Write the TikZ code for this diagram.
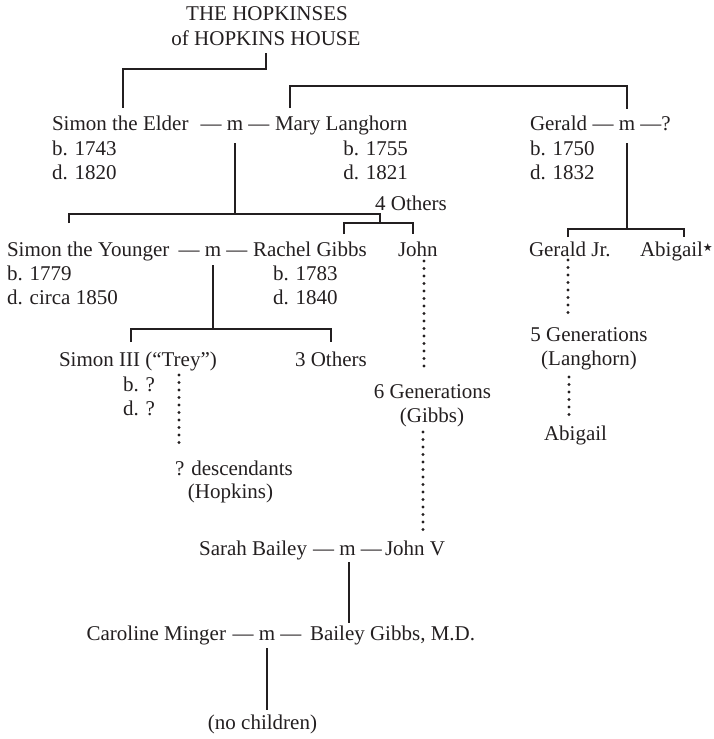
\documentclass[tikz,border=0pt]{standalone}
\usepackage{fontspec}
\setmainfont{Liberation Serif}
\newfontfamily\symfont{DejaVu Sans}
\definecolor{ink}{RGB}{35,31,32}
\begin{document}
\begin{tikzpicture}[x=1pt,y=-1pt,
  txt/.style={inner sep=0pt, outer sep=0pt, text=ink, font=\fontsize{21}{24}\selectfont},
  ln/.style={draw=ink, line width=1.3pt},
  dots/.style={draw=ink, line width=3.1pt, line cap=round, dash pattern=on 0pt off 7.5pt}]
\useasboundingbox (0,0) rectangle (714,739);
% title
\node[txt,anchor=base] (t1) at (267,20) {THE HOPKINSES};
\node[txt,anchor=base] (t2) at (266,45) {of HOPKINS HOUSE};
% generation 1
\node[txt,anchor=base west] (se) at (52,130) {Simon the Elder};
\node[txt,anchor=base] (m1) at (235,130) {— m —};
\node[txt,anchor=base west] (ml) at (275,130) {Mary Langhorn};
\node[txt,anchor=base west] (seb) at (52,155) {b. 1743};
\node[txt,anchor=base west] (sed) at (52,179) {d. 1820};
\node[txt,anchor=base east] (mlb) at (408,155) {b. 1755};
\node[txt,anchor=base east] (mld) at (408,179) {d. 1821};
\node[txt,anchor=base west] (ge) at (530,130) {Gerald};
\node[txt,anchor=base] (gm) at (627,130) {— m —};
\node[txt,anchor=base west] (gq) at (gm.base east) {?};
\node[txt,anchor=base west] (geb) at (530,155) {b. 1750};
\node[txt,anchor=base west] (ged) at (530,179) {d. 1832};
% generation 2
\node[txt,anchor=base] (o4) at (411,210) {4 Others};
\node[txt,anchor=base west] (sy) at (7,256) {Simon the Younger};
\node[txt,anchor=base] (m2) at (213,256) {— m —};
\node[txt,anchor=base west] (rg) at (253,256) {Rachel Gibbs};
\node[txt,anchor=base west] (jo) at (398,256) {John};
\node[txt,anchor=base west] (syb) at (7,280) {b. 1779};
\node[txt,anchor=base west] (syd) at (7,304) {d. circa 1850};
\node[txt,anchor=base west] (rgb) at (273,280) {b. 1783};
\node[txt,anchor=base west] (rgd) at (273,304) {d. 1840};
\node[txt,anchor=base west] (gj) at (529,256) {Gerald Jr.};
\node[txt,anchor=base west] (ab) at (640,256) {Abigail{\symfont\fontsize{11}{11}\selectfont\raisebox{5pt}{★}}};
% generation 3
\node[txt,anchor=base west] (s3) at (59,366) {Simon III (“Trey”)};
\node[txt,anchor=base west] (o3) at (295,366) {3 Others};
\node[txt,anchor=base west] (s3b) at (123,391) {b. ?};
\node[txt,anchor=base west] (s3d) at (123,415) {d. ?};
\node[txt,anchor=base] (g6) at (432.5,398) {6 Generations};
\node[txt,anchor=base] (g6b) at (432,422) {(Gibbs)};
\node[txt,anchor=base] (g5) at (589,341) {5 Generations};
\node[txt,anchor=base] (g5b) at (589,365) {(Langhorn)};
\node[txt,anchor=base] (ab2) at (575.5,440) {Abigail};
\node[txt,anchor=base west] (desc) at (175,475) {? descendants};
\node[txt,anchor=base] (desc2) at (230.5,498) {(Hopkins)};
% later
\node[txt,anchor=base east] (sb) at (307,555) {Sarah Bailey};
\node[txt,anchor=base] (m3) at (347.5,555) {— m —};
\node[txt,anchor=base west] (jv) at (385,555) {John V};
\node[txt,anchor=base east] (cm) at (226,640) {Caroline Minger};
\node[txt,anchor=base] (m4) at (267,640) {— m —};
\node[txt,anchor=base west] (bg) at (310,640) {Bailey Gibbs, M.D.};
\node[txt,anchor=base] (nc) at (262.5,729) {(no children)};
% junctions
\coordinate (j1) at (200,69);
\coordinate (j2) at (450,86);
\coordinate (b1) at (235,214);
\coordinate (b4) at (380,223);
\coordinate (b6) at (627,229);
\coordinate (b7) at (213,329);
% connectors
\draw[ln] ([yshift=-8pt]t2.base) |- (j1) -| ([xshift=71pt,yshift=22pt]se.base west);
\draw[ln] ([xshift=15pt,yshift=22pt]ml.base west) |- (j2) -| ([yshift=21pt]gm.base);
\draw[ln] ([yshift=-13pt]m1.base) -- (b1);
\draw[ln] ([xshift=62pt,yshift=33pt]sy.base west) |- (b1) -| (b4);
\draw[ln] ([xshift=91pt,yshift=22pt]rg.base west) |- (b4) -| ([xshift=15pt,yshift=22pt]jo.base west);
\draw[ln] ([yshift=-13pt]gm.base) -- (b6);
\draw[ln] ([xshift=39pt,yshift=19pt]gj.base west) |- (b6) -| ([xshift=44pt,yshift=19pt]ab.base west);
\draw[ln] ([yshift=-9pt]m2.base) -- (b7);
\draw[ln] ([xshift=72pt,yshift=24pt]s3.base west) |- (b7) -| ([xshift=36pt,yshift=24pt]o3.base west);
\draw[ln] ([xshift=1.5pt,yshift=-7pt]m3.base) -- ([xshift=39pt,yshift=17pt]bg.base west);
\draw[ln] ([yshift=-8pt]m4.base) -- ([xshift=4.5pt,yshift=19pt]nc.base);
% dotted lines of descent
\draw[dots] ([xshift=120pt,yshift=-9pt]s3.base west) -- ([xshift=4pt,yshift=28pt]desc.base west);
\draw[dots] ([xshift=26pt,yshift=-5pt]jo.base west) -- ([xshift=-8.5pt,yshift=25pt]g6.base);
\draw[dots] ([xshift=-9pt,yshift=-10pt]g6b.base) -- ([xshift=38pt,yshift=23pt]jv.base west);
\draw[dots] ([xshift=39pt,yshift=-4pt]gj.base west) -- ([xshift=-21pt,yshift=23pt]g5.base);
\draw[dots] ([xshift=-20pt,yshift=-12pt]g5b.base) -- ([xshift=-6.5pt,yshift=20pt]ab2.base);
\end{tikzpicture}
\end{document}
